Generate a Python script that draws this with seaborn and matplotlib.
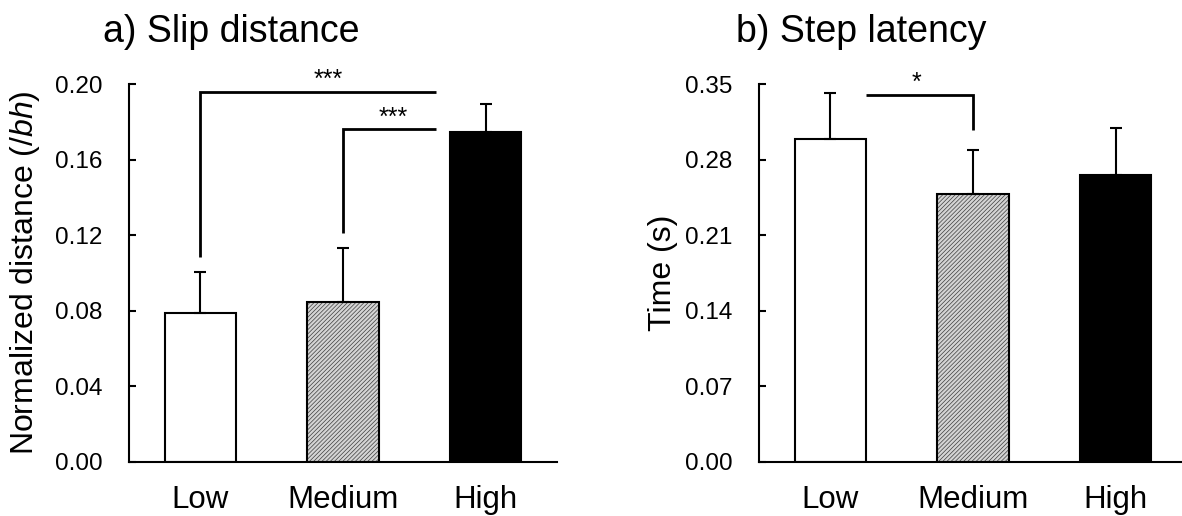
import numpy as np
import pandas as pd
import matplotlib
matplotlib.use("Agg")
import matplotlib.pyplot as plt
from matplotlib.patches import Rectangle
import seaborn as sns

# --- Datos ---
levels = ["Low", "Medium", "High"]

slip_mean = [0.0790, 0.0845, 0.1746]
slip_err = [0.0217, 0.0286, 0.0149]

step_mean = [0.2994, 0.2480, 0.2662]
step_err = [0.0423, 0.0411, 0.0431]

slip_ticks = [0.00, 0.04, 0.08, 0.12, 0.16, 0.20]
step_ticks = [0.00, 0.07, 0.14, 0.21, 0.28, 0.35]

# comparaciones significativas: (x_inicio, y_inicio, x_fin, y_fin, y_linea, x_texto, texto)
slip_sig = [
    (0.0, 0.1087, 1.652, None, 0.1962, 0.90, "***"),
    (1.0, 0.1214, 1.652, None, 0.1762, 1.354, "***"),
]
step_sig = [
    (0.249, None, 1.0, 0.3077, 0.3405, 0.605, "*"),
]

bar_colors = {"Low": "white", "Medium": "#d4d4d4", "High": "black"}

# --- Estilo ---
sns.set_style("ticks")
plt.rcParams["font.family"] = ["Liberation Sans", "DejaVu Sans"]
plt.rcParams["mathtext.fontset"] = "custom"
plt.rcParams["mathtext.rm"] = "Liberation Sans"
plt.rcParams["mathtext.it"] = "Liberation Sans:italic"
plt.rcParams["hatch.linewidth"] = 0.5
plt.rcParams["text.color"] = "black"
plt.rcParams["axes.labelcolor"] = "black"
plt.rcParams["xtick.color"] = "black"
plt.rcParams["ytick.color"] = "black"
plt.rcParams["axes.edgecolor"] = "black"

fig = plt.figure(figsize=(11.82, 5.16), dpi=100)
ax_a = fig.add_axes([0.1091, 0.1052, 0.3621, 0.7312])
ax_b = fig.add_axes([0.6421, 0.1052, 0.3621, 0.7312])


def draw_panel(ax, means, errs, ticks, ymax, title, ylabel, sigs, ylabel_x):
    df = pd.DataFrame({"level": levels, "value": means})
    sns.barplot(data=df, x="level", y="value", hue="level", palette=bar_colors,
                order=levels, hue_order=levels, legend=False, width=0.5,
                edgecolor="black", linewidth=1.5, ax=ax)

    # barra Medium: rayado fino gris con borde negro
    p = ax.patches[1]
    p.set_hatch("////////")
    p.set_edgecolor("#3c3c3c")
    p.set_linewidth(0)
    ax.add_patch(Rectangle((p.get_x(), p.get_y()), p.get_width(), p.get_height(),
                           fill=False, edgecolor="black", linewidth=1.5, zorder=p.get_zorder() + 0.1))

    xs = np.arange(len(levels))
    ax.errorbar(xs, means, yerr=[np.zeros(len(errs)), errs], fmt="none",
                ecolor="black", elinewidth=1.5, capsize=4, capthick=1.5, zorder=5)

    for x0, y0, x1, y1, yl, xt, txt in sigs:
        px = [x0]
        py = [y0 if y0 is not None else yl]
        px += [x0, x1] if y0 is not None else [x1]
        py += [yl, yl] if y0 is not None else [yl]
        if y1 is not None:
            px.append(x1)
            py.append(y1)
        ax.plot(px, py, color="black", linewidth=2, solid_capstyle="butt",
                solid_joinstyle="miter", clip_on=False)
        ax.text(xt, yl + ymax * 0.012, txt, ha="center", va="baseline", fontsize=18)

    ax.set_xlim(-0.5, 2.5)
    ax.set_ylim(0, ymax)
    ax.set_yticks(ticks)
    ax.set_yticklabels([f"{t:.2f}" for t in ticks])
    ax.set_xlabel("")
    ax.set_ylabel(ylabel, fontsize=23)
    ax.yaxis.set_label_coords(ylabel_x, 0.5)

    ax.tick_params(axis="y", direction="in", length=5, width=1.5, labelsize=17.5, pad=19)
    ax.tick_params(axis="x", length=0, labelsize=22.5, pad=17)
    for s in ["top", "right"]:
        ax.spines[s].set_visible(False)
    for s in ["left", "bottom"]:
        ax.spines[s].set_linewidth(1.5)

    ax.text(0.24, 1.113, title, transform=ax.transAxes, ha="center", va="baseline", fontsize=27)


draw_panel(ax_a, slip_mean, slip_err, slip_ticks, 0.20, "a) Slip distance",
           r"Normalized distance ($\mathit{/bh}$)", slip_sig, -0.204)
draw_panel(ax_b, step_mean, step_err, step_ticks, 0.35, "b) Step latency",
           "Time (s)", step_sig, -0.19)

fig.savefig("out.png", dpi=100)
plt.close(fig)
